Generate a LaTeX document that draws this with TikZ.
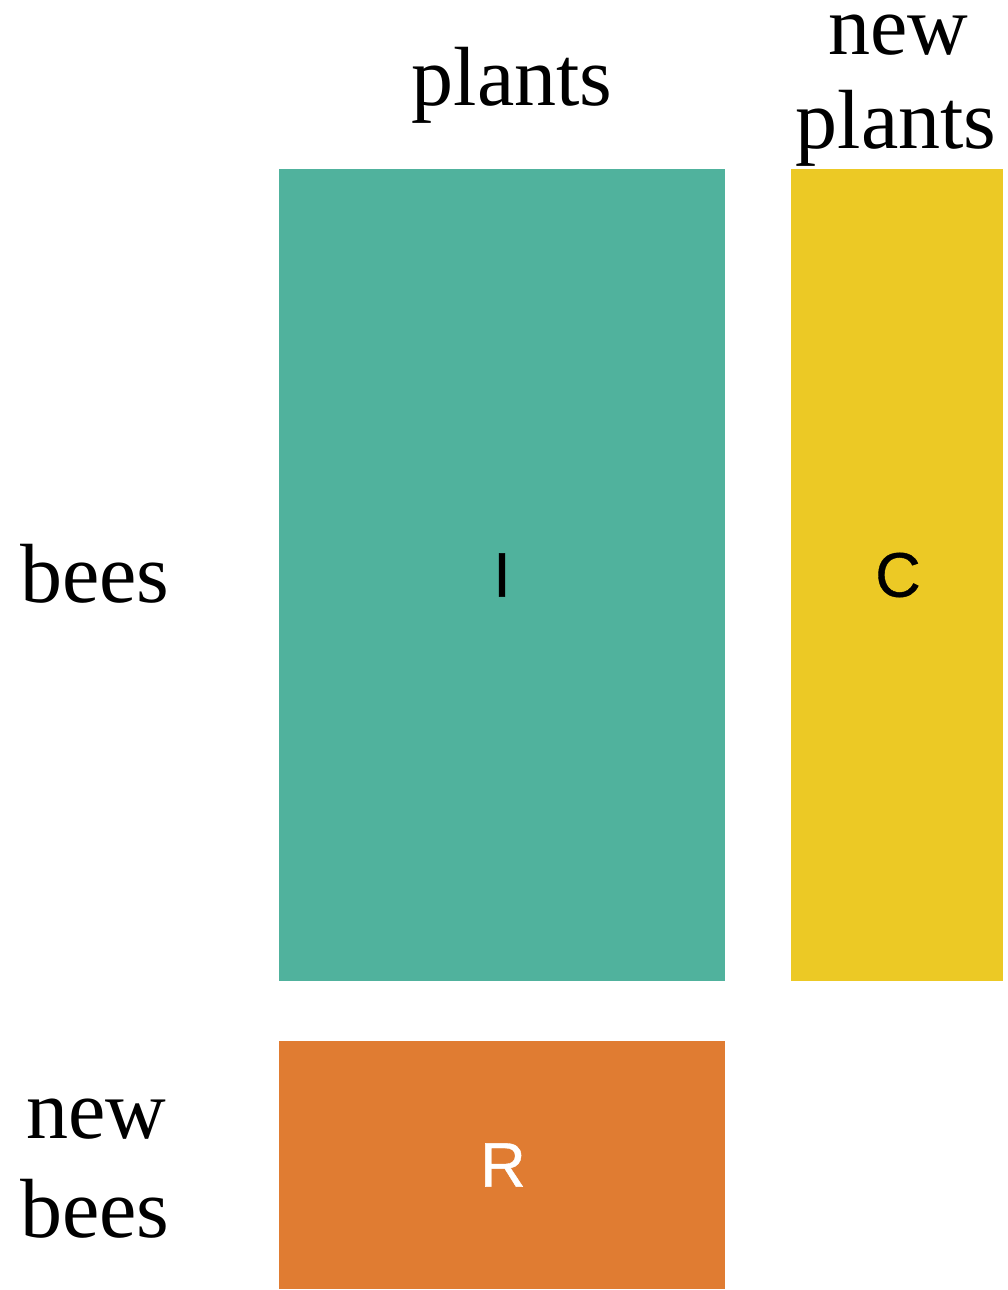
\documentclass[tikz,border=0pt]{standalone}
\usepackage{fontspec}
\setmainfont{Liberation Serif}
\newfontfamily\lettersf[FakeBold=0.6]{Liberation Sans}
\definecolor{tealc}{HTML}{50B29D}
\definecolor{yellowc}{HTML}{ECC925}
\definecolor{orangec}{HTML}{E07C32}
\begin{document}
\begin{tikzpicture}[x=1pt,y=-1pt,
  block/.style={inner sep=0pt, outer sep=0pt, font=\lettersf\fontsize{63}{63}\selectfont},
  lab/.style={anchor=base, inner sep=0pt, font=\fontsize{84}{93}\selectfont}]
\useasboundingbox (0,0) rectangle (1007,1290);
\node[block, fill=tealc, minimum width=446pt, minimum height=812pt, text=black] (I) at (502,575) {I};
\node[block, fill=yellowc, minimum width=212pt, minimum height=812pt, text=black] (C) at (897,575) {\hspace*{2pt}C};
\node[block, fill=orangec, minimum width=446pt, minimum height=248pt, text=white] (R) at (502,1165) {\hspace*{2pt}R};
\node[lab] (plants) at (512,105) {plants};
\node[lab] (newplants1) at (898,55) {new};
\node[lab] (newplants2) at (896,148) {plants};
\node[lab] (bees) at (95,602) {bees};
\node[lab] (newbees1) at (96,1138) {new};
\node[lab] (newbees2) at (95,1237) {bees};
\end{tikzpicture}
\end{document}
